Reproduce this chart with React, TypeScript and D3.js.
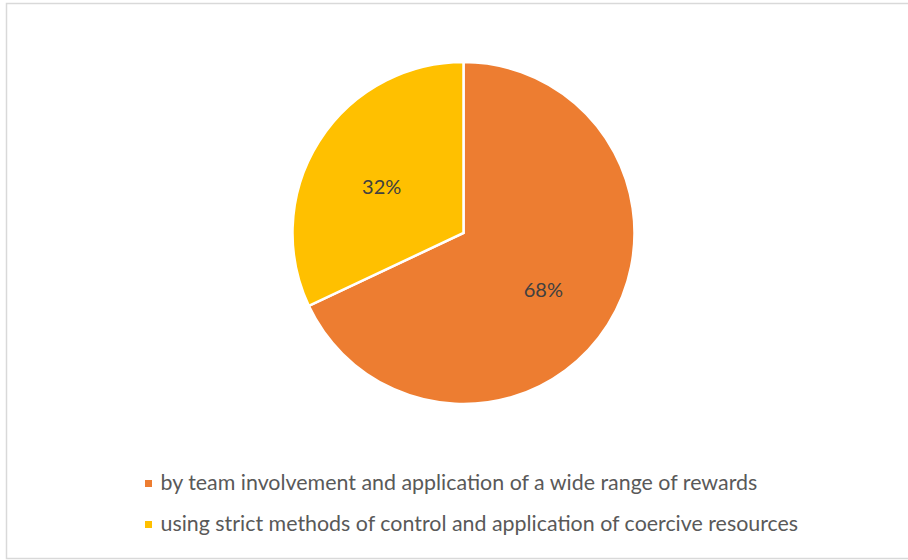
import React from "react";
import * as d3 from "d3";

const categories = [
  "by team involvement and application of a wide range of rewards",
  "using strict methods of control and application of coercive resources",
];
const values = [68, 32];
const labels = ["68%", "32%"];
const colors = ["#ED7D31", "#FFC000"];

const W = 908;
const H = 560;
const cx = 463.5;
const cy = 233;
const R = 171;
const FONT = "Lato, 'Open Sans', sans-serif";

export default function App() {
  const pie = d3
    .pie<number>()
    .sort(null)
    .value((d) => d)
    .startAngle(0)
    .endAngle(2 * Math.PI);
  const arcs = pie(values);
  const arc = d3.arc<d3.PieArcDatum<number>>().innerRadius(0).outerRadius(R);
  const labelArc = d3
    .arc<d3.PieArcDatum<number>>()
    .innerRadius(R * 0.56)
    .outerRadius(R * 0.56);

  return (
    <div style={{ position: "absolute", left: 0, top: 0 }}>
      <svg width={W} height={H} style={{ display: "block" }}>
        <rect x={0} y={0} width={W} height={H} fill="#ffffff" />
        <rect
          x={6.5}
          y={3.5}
          width={910}
          height={555}
          fill="#ffffff"
          stroke="#d9d9d9"
          strokeWidth={1.5}
        />
        <g transform={`translate(${cx},${cy})`}>
          {arcs.map((a, i) => (
            <path
              key={i}
              d={arc(a) || ""}
              fill={colors[i]}
              stroke="#ffffff"
              strokeWidth={2.5}
              strokeLinejoin="miter"
            />
          ))}
          {arcs.map((a, i) => {
            const [x, y] = labelArc.centroid(a);
            return (
              <text
                key={i}
                x={x - 1}
                y={y + 4.5}
                textAnchor="middle"
                dominantBaseline="central"
                fontFamily={FONT}
                fontSize={20}
                fill="#404040"
              >
                {labels[i]}
              </text>
            );
          })}
        </g>
        {categories.map((c, i) => {
          const y = 483.5 + i * 41;
          return (
            <g key={i}>
              <rect x={145} y={y - 3.5} width={7} height={7} fill={colors[i]} />
              <text
                x={160.5}
                y={y + 6}
                fontFamily={FONT}
                fontSize={21.4}
                fill="#595959"
              >
                {c}
              </text>
            </g>
          );
        })}
      </svg>
    </div>
  );
}
